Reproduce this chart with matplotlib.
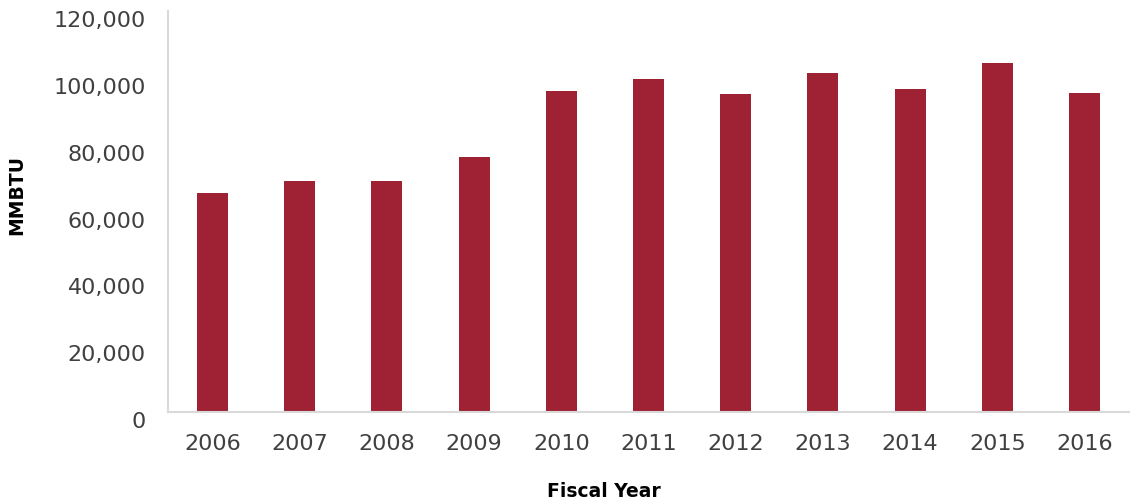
import matplotlib
matplotlib.use("Agg")
import matplotlib.pyplot as plt
import matplotlib.transforms as mtransforms
from matplotlib.ticker import FuncFormatter, MultipleLocator

years = ["2006", "2007", "2008", "2009", "2010", "2011", "2012", "2013", "2014", "2015", "2016"]
mmbtu = [65400, 69000, 69000, 76400, 96000, 99800, 95100, 101400, 96700, 104600, 95600]

bar_color = "#9e2233"
text_color = "#404040"
axis_color = "#d9d9d9"

plt.rcParams["font.family"] = ["DejaVu Sans"]

fig = plt.figure(figsize=(11.32, 5.02), dpi=100)
ax = fig.add_axes([0.1484, 0.1773, 0.8489, 0.7987])

x = list(range(len(years)))
ax.bar(x, mmbtu, width=0.355, color=bar_color, zorder=2)

ax.set_xlim(-0.51, len(years) - 0.49)
ax.set_ylim(0, 120000)
ax.yaxis.set_major_locator(MultipleLocator(20000))
ax.yaxis.set_major_formatter(FuncFormatter(lambda v, p: f"{int(v):,}"))
ax.set_xticks(x)
ax.set_xticklabels(years)

for s in ["top", "right"]:
    ax.spines[s].set_visible(False)
for s in ["left", "bottom"]:
    ax.spines[s].set_color(axis_color)
    ax.spines[s].set_linewidth(1.5)
    ax.spines[s].set_zorder(3)

ax.tick_params(axis="both", length=0, labelcolor=text_color, labelsize=16)
ax.tick_params(axis="y", pad=16)
ax.tick_params(axis="x", pad=15)

offset = mtransforms.ScaledTranslation(0, -7 / 100, fig.dpi_scale_trans)
for lbl in ax.get_yticklabels():
    lbl.set_transform(lbl.get_transform() + offset)

fig.text(0.5337, (502 - 492) / 502, "Fiscal Year", ha="center", va="center",
         fontsize=13.5, fontweight="bold", color="black")
fig.text(17 / 1132, (502 - 195) / 502, "MMBTU", ha="center", va="center",
         rotation=90, fontsize=13.5, fontweight="bold", color="black")

fig.savefig("out.png", dpi=100)
